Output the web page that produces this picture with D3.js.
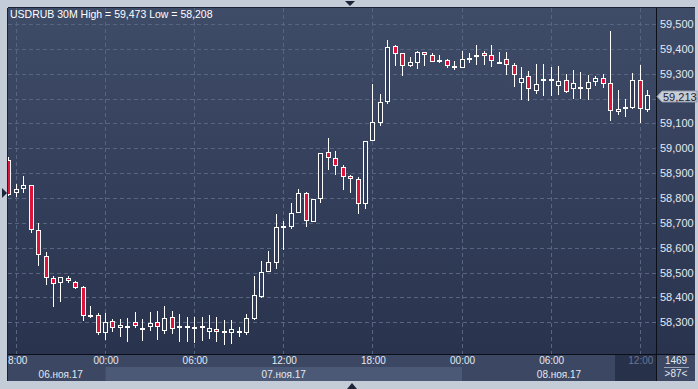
<!DOCTYPE html>
<html>
<head>
<meta charset="utf-8">
<script src="https://cdn.jsdelivr.net/npm/d3@7"></script>
<style>
  body { margin: 0; background: #c4ccd8; }
  svg { display: block; font-family: "Liberation Sans", Arial, sans-serif; }
</style>
</head>
<body>
<div id="chart"></div>
<script>
// USDRUB 30 minute bars, first visible bar 06.11.17 17:30
var symbol = "USDRUB 30M";
var firstBar = new Date(2017, 10, 6, 17, 30);

var opens = [58953, 58819, 58835, 58851, 58670, 58565, 58478, 58459, 58477, 58461,
             58442, 58326, 58329, 58255, 58305, 58278, 58285, 58300, 58273, 58281,
             58300, 58265, 58320, 58284, 58275, 58278, 58280, 58259, 58271, 58263,
             58258, 58266, 58257, 58313, 58403, 58503, 58540, 58684, 58684, 58738,
             58819, 58704, 58795, 58984, 58960, 58926, 58887, 58875, 58774, 59028,
             59103, 59187, 59413, 59382, 59332, 59344, 59386, 59375, 59350, 59354,
             59330, 59324, 59360, 59372, 59382, 59374, 59344, 59358, 59334, 59264,
             59290, 59232, 59275, 59280, 59249, 59273, 59237, 59242, 59240, 59265,
             59282, 59261, 59145, 59157, 59161, 59273, 59154];
var highs = [58965, 58856, 58888, 58853, 58698, 58581, 58486, 58483, 58486, 58466,
             58444, 58365, 58336, 58336, 58313, 58313, 58317, 58341, 58312, 58341,
             58345, 58366, 58345, 58333, 58322, 58320, 58320, 58330, 58320, 58309,
             58309, 58280, 58333, 58486, 58546, 58587, 58735, 58707, 58780, 58836,
             58824, 58795, 58980, 59041, 58989, 58931, 58892, 58883, 59028, 59259,
             59218, 59436, 59417, 59382, 59366, 59391, 59386, 59383, 59375, 59359,
             59350, 59390, 59382, 59417, 59390, 59414, 59386, 59386, 59342, 59326,
             59312, 59338, 59338, 59326, 59330, 59298, 59314, 59306, 59296, 59290,
             59299, 59473, 59233, 59197, 59302, 59334, 59234];
var lows = [58808, 58803, 58821, 58658, 58527, 58451, 58362, 58383, 58457, 58434,
            58305, 58318, 58249, 58228, 58262, 58240, 58222, 58275, 58226, 58266,
            58228, 58253, 58254, 58222, 58222, 58215, 58226, 58231, 58222, 58208,
            58212, 58242, 58247, 58309, 58399, 58503, 58514, 58591, 58675, 58738,
            58684, 58704, 58778, 58912, 58892, 58832, 58821, 58735, 58757, 59028,
            59090, 59178, 59332, 59292, 59328, 59320, 59332, 59348, 59342, 59322,
            59316, 59324, 59342, 59336, 59336, 59326, 59340, 59295, 59248, 59194,
            59191, 59218, 59210, 59210, 59216, 59224, 59198, 59198, 59195, 59252,
            59244, 59111, 59134, 59125, 59157, 59103, 59146];
var closes = [58812, 58835, 58851, 58671, 58569, 58477, 58453, 58481, 58465, 58436,
              58326, 58326, 58258, 58300, 58275, 58288, 58275, 58285, 58273, 58296,
              58280, 58316, 58271, 58277, 58284, 58278, 58280, 58275, 58259, 58255,
              58271, 58255, 58316, 58408, 58501, 58541, 58682, 58684, 58738, 58819,
              58708, 58795, 58980, 58960, 58929, 58883, 58875, 58774, 59028, 59104,
              59186, 59406, 59378, 59330, 59346, 59386, 59376, 59348, 59350, 59330,
              59322, 59358, 59360, 59372, 59370, 59353, 59344, 59334, 59294, 59282,
              59237, 59257, 59275, 59272, 59269, 59228, 59261, 59242, 59265, 59282,
              59257, 59149, 59157, 59165, 59273, 59157, 59213];

var priceTicks = [58300, 58400, 58500, 58600, 58700, 58800, 58900, 59000, 59100, 59200, 59300, 59400, 59500];
var dayLabels = ["06.ноя.17", "07.ноя.17", "08.ноя.17"];
var totalBars = 1469;

var width = 698, height = 389;
var plot = { left: 8, top: 8, right: 656, bottom: 354 };
var frameRight = 695, frameBottom = 381;
var redBar = "#dc143c";

var times = opens.map((d, i) => d3.timeMinute.offset(firstBar, 30 * i));

var x = d3.scaleTime()
    .domain([new Date(2017, 10, 7, 0, 0), new Date(2017, 10, 8, 12, 0)])
    .range([105.5, 640.3]);
var y = d3.scaleLinear()
    .domain([58300, 59500])
    .range([322.2, 24]);

var lastPrice = closes[closes.length - 1];
var lastY = Math.round(y(lastPrice)) + 1.5;

var svg = d3.select('#chart')
  .append('svg')
  .attr('width', width)
  .attr('height', height);

var defs = svg.append('defs');
var grad = defs.append('linearGradient')
    .attr('id', 'bg').attr('x1', 0).attr('y1', 0).attr('x2', 0).attr('y2', 1);
grad.append('stop').attr('offset', 0).attr('stop-color', '#3f4c68');
grad.append('stop').attr('offset', 1).attr('stop-color', '#29334e');
defs.append('clipPath').attr('id', 'plotClip')
  .append('rect')
    .attr('x', plot.left).attr('y', plot.top)
    .attr('width', plot.right - plot.left).attr('height', plot.bottom - plot.top);
defs.append('clipPath').attr('id', 'axisClip')
  .append('rect')
    .attr('x', plot.left).attr('y', plot.bottom)
    .attr('width', plot.right - plot.left).attr('height', frameBottom - plot.bottom);

// outer frame + panels
svg.append('rect').attr('width', width).attr('height', height).attr('fill', '#c4ccd8');
svg.append('rect')
    .attr('x', plot.left).attr('y', plot.top)
    .attr('width', frameRight - plot.left).attr('height', plot.bottom - plot.top)
    .attr('fill', 'url(#bg)');
svg.append('rect')
    .attr('x', plot.left).attr('y', plot.bottom)
    .attr('width', frameRight - plot.left).attr('height', frameBottom - plot.bottom)
    .attr('fill', '#3b4763');

// grid
var timeTicks = d3.timeHour.every(6).range(x.invert(plot.left), x.invert(plot.right));
var grid = svg.append('g').attr('clip-path', 'url(#plotClip)')
    .attr('stroke', '#586580').attr('stroke-dasharray', '4,3');
grid.selectAll('.hg')
  .data(priceTicks)
  .enter()
  .append('line')
    .attr('x1', plot.left).attr('x2', plot.right)
    .attr('y1', d => Math.round(y(d)) + 0.5)
    .attr('y2', d => Math.round(y(d)) + 0.5);
grid.selectAll('.vg')
  .data(timeTicks)
  .enter()
  .append('line')
    .attr('y1', plot.top).attr('y2', plot.bottom)
    .attr('x1', d => Math.floor(x(d)) + 0.5)
    .attr('x2', d => Math.floor(x(d)) + 0.5);

// candles
var candles = svg.append('g').attr('clip-path', 'url(#plotClip)')
  .selectAll('g')
  .data(times)
  .enter()
  .append('g');

candles.append('line')
    .attr('x1', d => Math.floor(x(d)) + 0.5)
    .attr('x2', d => Math.floor(x(d)) + 0.5)
    .attr('y1', (d, i) => Math.round(y(highs[i])))
    .attr('y2', (d, i) => Math.round(y(lows[i])))
    .attr('stroke', '#ffffff')
    .attr('stroke-width', 1);

candles.each(function(d, i) {
  var cx = Math.floor(x(d)) + 0.5;
  var top = Math.round(y(Math.max(opens[i], closes[i])));
  var bot = Math.round(y(Math.min(opens[i], closes[i])));
  var g = d3.select(this);
  if (bot - top < 2) {
    // doji
    g.append('rect')
        .attr('x', cx - 2.5).attr('y', Math.round((top + bot) / 2) - 1)
        .attr('width', 5).attr('height', 2)
        .attr('fill', '#ffffff');
  } else {
    g.append('rect')
        .attr('x', cx - 2).attr('y', top + 0.5)
        .attr('width', 4).attr('height', bot - top - 1)
        .attr('fill', closes[i] < opens[i] ? redBar : '#313d58')
        .attr('stroke', '#ffffff')
        .attr('stroke-width', 1);
  }
});

// title
svg.append('text')
    .attr('x', 10).attr('y', 18)
    .attr('fill', '#ffffff')
    .attr('font-size', 10.5)
    .text(symbol + "  High = " + d3.format(",")(d3.max(highs)) + " Low  = " + d3.format(",")(d3.min(lows)));

// right price axis (label under the last price tag is hidden)
var yAxis = svg.append('g')
    .attr('transform', 'translate(' + plot.right + ',0)')
    .call(d3.axisRight(y)
      .tickValues(priceTicks.filter(d => Math.abs(y(d) - lastY) > 10))
      .tickFormat(d3.format(",")).tickSize(0).tickPadding(4));
yAxis.select('.domain').remove();
yAxis.selectAll('text')
    .attr('fill', '#e4e9f1')
    .attr('font-size', 11)
    .attr('font-family', '"Liberation Sans", Arial, sans-serif');

// bottom time axis
var dayStarts = [new Date(2017, 10, 6), new Date(2017, 10, 7), new Date(2017, 10, 8)];
var axisG = svg.append('g').attr('clip-path', 'url(#axisClip)');
axisG.append('rect')
    .attr('x', x(dayStarts[1])).attr('y', 367)
    .attr('width', x(dayStarts[2]) - x(dayStarts[1])).attr('height', frameBottom - 367)
    .attr('fill', '#4b5976');
axisG.append('rect')
    .attr('x', 615).attr('y', plot.bottom + 1)
    .attr('width', plot.right - 615).attr('height', frameBottom - plot.bottom - 1)
    .attr('fill', '#27314a');
var xAxis = axisG.append('g')
    .attr('transform', 'translate(0,' + plot.bottom + ')')
    .call(d3.axisBottom(x).tickValues(timeTicks).tickFormat(d3.timeFormat("%H:%M")).tickSize(0).tickPadding(3));
xAxis.select('.domain').remove();
xAxis.selectAll('text')
    .attr('fill', d => x(d) > 615 ? '#6b7690' : '#e4e9f1')
    .attr('font-size', 10)
    .attr('font-family', '"Liberation Sans", Arial, sans-serif')
    .attr('dx', d => x(d) < 20 ? -2 : 0);

axisG.selectAll('.day')
  .data(dayLabels)
  .enter()
  .append('text')
    .attr('x', (d, i) => {
      var a = Math.max(x(dayStarts[i]), 16);
      var b = Math.min(x(d3.timeDay.offset(dayStarts[i], 1)), plot.right);
      return (a + b) / 2;
    })
    .attr('y', 378)
    .attr('text-anchor', 'middle')
    .attr('fill', '#e4e9f1')
    .attr('font-size', 10)
    .text(d => d);

// separators
svg.append('line')
    .attr('x1', plot.right + 0.5).attr('x2', plot.right + 0.5)
    .attr('y1', plot.top).attr('y2', frameBottom)
    .attr('stroke', '#0b0f18');
svg.append('line')
    .attr('x1', plot.left).attr('x2', frameRight)
    .attr('y1', plot.bottom + 0.5).attr('y2', plot.bottom + 0.5)
    .attr('stroke', '#0b0f18');
svg.append('line')
    .attr('x1', plot.left - 0.5).attr('x2', plot.left - 0.5)
    .attr('y1', plot.top).attr('y2', frameBottom)
    .attr('stroke', '#1a2233');
svg.append('line')
    .attr('x1', plot.left).attr('x2', frameRight)
    .attr('y1', plot.top - 0.5).attr('y2', plot.top - 0.5)
    .attr('stroke', '#1a2233');

// bar counter box
svg.append('text')
    .attr('x', 676).attr('y', 364)
    .attr('text-anchor', 'middle')
    .attr('fill', '#e4e9f1').attr('font-size', 10)
    .text(totalBars);
svg.append('line')
    .attr('x1', 664).attr('x2', 689)
    .attr('y1', 367.5).attr('y2', 367.5)
    .attr('stroke', '#9aa5b8');
svg.append('text')
    .attr('x', 676).attr('y', 377)
    .attr('text-anchor', 'middle')
    .attr('fill', '#e4e9f1').attr('font-size', 10)
    .text('>' + closes.length + '<');

// last price tag
svg.append('path')
    .attr('d', 'M657,' + lastY + ' L662,' + (lastY - 5.5) + ' L697,' + (lastY - 5.5) + ' L697,' + (lastY + 5.5) + ' L662,' + (lastY + 5.5) + ' Z')
    .attr('fill', '#c8cdd6')
    .attr('stroke', '#8e98ab');
svg.append('text')
    .attr('x', 663).attr('y', lastY + 4)
    .attr('fill', '#1c2233').attr('font-size', 11)
    .text(d3.format(",")(lastPrice));

// frame markers
svg.append('path').attr('d', 'M345,1 L355,1 L350,6 Z').attr('fill', '#1c2438');
svg.append('path').attr('d', 'M347,389 L357,389 L352,383 Z').attr('fill', '#1c2438');
svg.append('path').attr('d', 'M2,188 L7,193 L2,198 Z').attr('fill', '#1c2438');
</script>
</body>
</html>
